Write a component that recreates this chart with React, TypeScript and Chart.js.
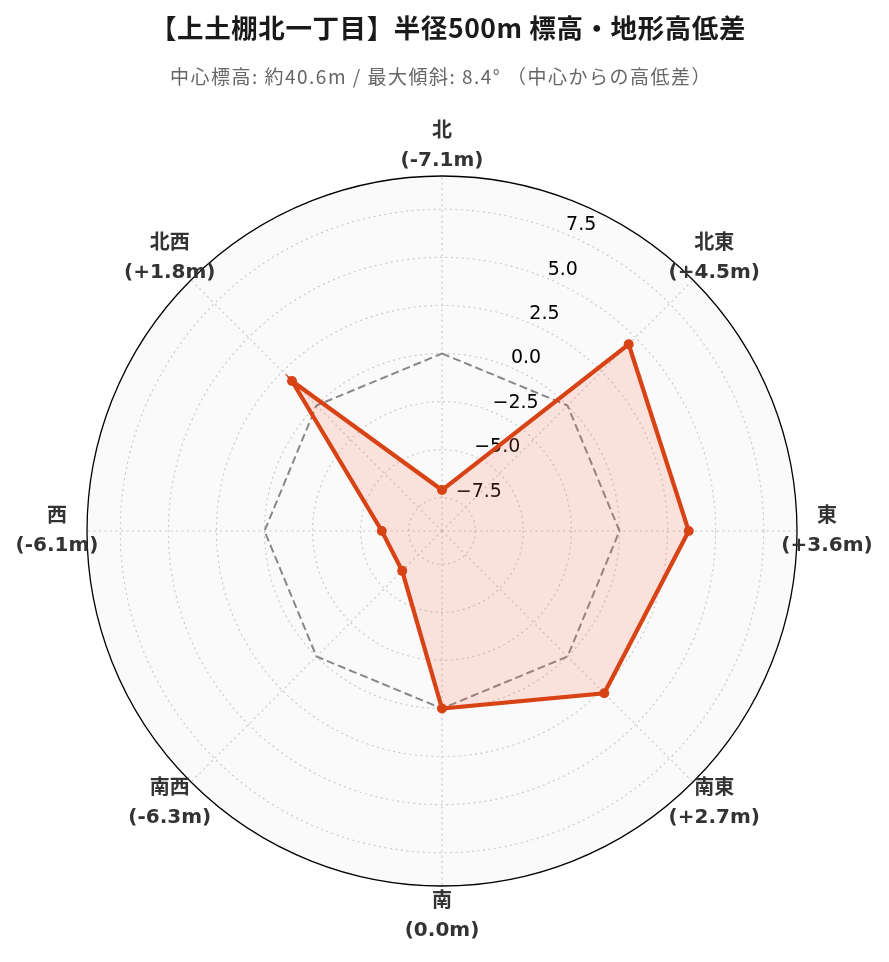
import React, { useEffect, useRef } from "react";
import { Chart, registerables } from "chart.js";

Chart.register(...registerables);

// ---- data ----
const directions = ["北", "北東", "東", "南東", "南", "南西", "西", "北西"];
const elevationDiffs = [-7.1, 4.5, 3.6, 2.7, 0.0, -6.3, -6.1, 1.8];
const zeroLine = [0, 0, 0, 0, 0, 0, 0, 0];
const radialTickValues = [-7.5, -5.0, -2.5, 0.0, 2.5, 5.0, 7.5];
const radialLimit = 9.23;
const titleText = "【上土棚北一丁目】半径500m 標高・地形高低差";
const subtitleText = "中心標高: 約40.6m / 最大傾斜: 8.4° （中心からの高低差）";

const fmtDiff = (v: number) => `(${v > 0 ? "+" : ""}${v.toFixed(1)}m)`;
const fmtTick = (v: number) => (v < 0 ? "\u2212" : "") + Math.abs(v).toFixed(1);

function fitText(ctx: CanvasRenderingContext2D, text: string, cx: number, cy: number, targetWidth: number) {
  (ctx as any).letterSpacing = "0px";
  const w = ctx.measureText(text).width;
  const n = Array.from(text).length;
  const extra = Math.max(0, (targetWidth - w) / n);
  (ctx as any).letterSpacing = `${extra}px`;
  ctx.textAlign = "left";
  ctx.fillText(text, cx - targetWidth / 2, cy);
  (ctx as any).letterSpacing = "0px";
}

const decorPlugin = {
  id: "decor",
  beforeDraw(chart: any) {
    const s = chart.scales.r;
    const ctx = chart.ctx;
    ctx.save();
    ctx.fillStyle = "#ffffff";
    ctx.fillRect(0, 0, chart.width, chart.height);
    ctx.fillStyle = "#fafafa";
    ctx.beginPath();
    ctx.arc(s.xCenter, s.yCenter, s.drawingArea, 0, Math.PI * 2);
    ctx.fill();

    // title & subtitle
    ctx.textBaseline = "middle";
    ctx.fillStyle = "#1a1a1a";
    ctx.font = "bold 26.5px 'Noto Sans CJK JP', 'DejaVu Sans', sans-serif";
    fitText(ctx, titleText, 448, 28, 596);
    ctx.fillStyle = "#666666";
    ctx.font = "19px 'Noto Sans CJK JP', 'DejaVu Sans', sans-serif";
    fitText(ctx, subtitleText, 441, 77, 542);
    ctx.restore();
  },
  beforeDatasetsDraw(chart: any) {
    const s = chart.scales.r;
    const ctx = chart.ctx;
    ctx.save();
    ctx.fillStyle = "#000000";
    ctx.font = "19px 'DejaVu Sans', sans-serif";
    ctx.textAlign = "left";
    ctx.textBaseline = "bottom";
    const ang = (22.5 * Math.PI) / 180;
    radialTickValues.forEach((v) => {
      const d = s.getDistanceFromCenterForValue(v);
      const x = s.xCenter + d * Math.sin(ang);
      const y = s.yCenter - d * Math.cos(ang);
      ctx.fillText(fmtTick(v), x + 1, y + 1);
    });
    ctx.restore();
  },
  afterDraw(chart: any) {
    const s = chart.scales.r;
    const ctx = chart.ctx;
    ctx.save();
    ctx.strokeStyle = "#000000";
    ctx.lineWidth = 1.3;
    ctx.beginPath();
    ctx.arc(s.xCenter, s.yCenter, s.drawingArea, 0, Math.PI * 2);
    ctx.stroke();

    ctx.fillStyle = "#333333";
    ctx.font = "bold 20px 'DejaVu Sans', 'Noto Sans CJK JP', sans-serif";
    ctx.textAlign = "center";
    ctx.textBaseline = "middle";
    directions.forEach((name, i) => {
      const p = s.getPointPosition(i, s.drawingArea + 30);
      ctx.fillText(name, p.x, p.y - 14.5);
      ctx.fillText(fmtDiff(elevationDiffs[i]), p.x, p.y + 14.5);
    });
    ctx.restore();
  },
};

export default function App() {
  const canvasRef = useRef<HTMLCanvasElement | null>(null);

  useEffect(() => {
    if (!canvasRef.current) return;
    const chart = new Chart(canvasRef.current, {
      type: "radar",
      data: {
        labels: directions,
        datasets: [
          {
            label: "高低差",
            data: elevationDiffs,
            borderColor: "#d84315",
            backgroundColor: "rgba(255, 100, 70, 0.17)",
            borderWidth: 4.2,
            fill: "start",
            pointRadius: 5,
            pointBackgroundColor: "#d84315",
            pointBorderWidth: 0,
            tension: 0,
          },
          {
            label: "基準",
            data: zeroLine,
            borderColor: "#888888",
            borderWidth: 2,
            borderDash: [8, 4],
            fill: false,
            pointRadius: 0,
            tension: 0,
          },
        ],
      },
      options: {
        responsive: false,
        devicePixelRatio: 1,
        animation: false,
        layout: { padding: { left: 87, right: 92, top: 176, bottom: 76 } },
        plugins: {
          legend: { display: false },
          title: { display: false },
          tooltip: { enabled: false },
        },
        scales: {
          r: {
            min: -radialLimit,
            max: radialLimit,
            beginAtZero: false,
            afterBuildTicks: (scale: any) => {
              scale.ticks = [-radialLimit, ...radialTickValues].map((v) => ({ value: v }));
            },
            ticks: { display: false },
            pointLabels: { display: false },
            grid: { circular: true, color: "#c8c8c8", lineWidth: 1.1 },
            border: { dash: [2, 3.5] },
            angleLines: { display: true, color: "#c8c8c8", lineWidth: 1.1, borderDash: [2, 3.5] },
          },
        },
      },
      plugins: [decorPlugin],
    });
    return () => chart.destroy();
  }, []);

  return (
    <div style={{ position: "absolute", left: 0, top: 0, width: 889, height: 962 }}>
      <canvas ref={canvasRef} width={889} height={962} style={{ width: 889, height: 962 }} />
    </div>
  );
}
